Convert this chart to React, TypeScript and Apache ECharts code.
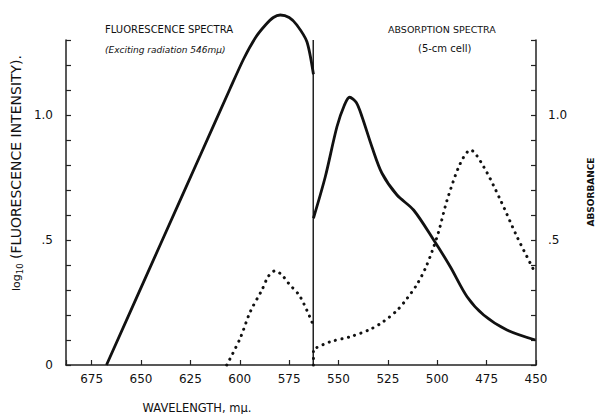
import React, { useEffect, useRef } from "react";
import * as echarts from "echarts";

// Wavelength axis (mμ), reversed
const xTicks = [675, 650, 625, 600, 575, 550, 525, 500, 475, 450];
const yLeftLabels: Record<string, string> = { "0": "0", "0.5": ".5", "1": "1.0" };
const yRightLabels: Record<string, string> = { "0.5": ".5", "1": "1.0" };

// Fluorescence spectra (log10 intensity)
const fluorSolidWl = [667.5, 640, 620, 605, 598, 592, 587, 583, 579.5, 575, 571.1, 566, 562.7];
const fluorSolidVal = [0, 0.486, 0.839, 1.104, 1.225, 1.31, 1.36, 1.39, 1.4, 1.39, 1.36, 1.293, 1.163];

const fluorDotWl = [606.6, 599.8, 594.7, 588.8, 585.5, 582.1, 578.7, 575.3, 569.4, 563.2];
const fluorDotVal = [0, 0.107, 0.213, 0.3, 0.355, 0.377, 0.36, 0.327, 0.273, 0.167];

// Absorption spectra (absorbance)
const absSolidWl = [562.7, 556.7, 550.8, 547, 544.4, 541, 538.1, 533.1, 528, 520.4, 512, 501.8, 493.4, 484.9, 476.5, 464.7, 450.3];
const absSolidVal = [0.587, 0.753, 0.953, 1.04, 1.071, 1.05, 0.993, 0.873, 0.767, 0.68, 0.62, 0.5, 0.393, 0.273, 0.2, 0.14, 0.1];

const absDotWl = [562.7, 562.7, 561.8, 554.2, 544.1, 533.9, 527.2, 520.4, 515.3, 510.3, 506, 502.6, 499.3, 495, 488.3, 483.2, 476.5, 468, 459.6, 450.3];
const absDotVal = [0, 0.063, 0.067, 0.093, 0.113, 0.143, 0.174, 0.218, 0.266, 0.322, 0.387, 0.455, 0.533, 0.66, 0.807, 0.86, 0.793, 0.66, 0.513, 0.367];

// Divider between the two panels
const dividerWl = [562.8, 562.8];
const dividerVal = [0, 1.3];

const zip = (xs: number[], ys: number[]) => xs.map((x, i) => [x, ys[i]]);

const FONT = "DejaVu Sans";
const INK = "#111";

function fmtKey(v: number) {
  const r = Math.round(v * 10) / 10;
  return String(r);
}

export default function App() {
  const ref = useRef<HTMLDivElement>(null);
  useEffect(() => {
    if (!ref.current) return;
    const chart = echarts.init(ref.current, undefined, { renderer: "svg" });
    const axisLine = { show: true, lineStyle: { color: "#222", width: 1.5 } };
    const axisTick = { show: true, inside: true, length: 5, lineStyle: { color: "#222", width: 1.2 } };
    const solid = { color: INK, width: 2.8 };
    const dotted = { color: INK, width: 3, type: [0.1, 6.5] as any, cap: "round" as any };
    const option: any = {
      animation: false,
      backgroundColor: "#ffffff",
      grid: { left: 66, right: 60, top: 40, bottom: 49 },
      xAxis: {
        type: "value",
        min: 450,
        max: 688,
        inverse: true,
        interval: 25,
        axisLine,
        axisTick,
        splitLine: { show: false },
        axisLabel: {
          margin: 8,
          fontSize: 12,
          fontFamily: FONT,
          color: INK,
          formatter: (v: number) => (xTicks.indexOf(Math.round(v)) >= 0 && Math.abs(v - Math.round(v)) < 1e-6 ? String(Math.round(v)) : ""),
        },
      },
      yAxis: [
        {
          type: "value",
          min: 0,
          max: 1.3,
          interval: 0.1,
          axisLine,
          axisTick,
          splitLine: { show: false },
          axisLabel: {
            margin: 13,
            fontSize: 12,
            fontFamily: FONT,
            color: INK,
            formatter: (v: number) => yLeftLabels[fmtKey(v)] ?? "",
          },
        },
        {
          type: "value",
          position: "right",
          min: 0,
          max: 1.3,
          interval: 0.1,
          axisLine,
          axisTick,
          splitLine: { show: false },
          axisLabel: {
            margin: 12,
            fontSize: 12,
            fontFamily: FONT,
            color: INK,
            formatter: (v: number) => yRightLabels[fmtKey(v)] ?? "",
          },
        },
      ],
      graphic: [
        {
          type: "text",
          x: 105,
          y: 29,
          style: { text: "FLUORESCENCE SPECTRA", fontSize: 10, fontFamily: FONT, fill: INK, align: "left", textAlign: "left", verticalAlign: "middle", textVerticalAlign: "middle" },
        },
        {
          type: "text",
          x: 105,
          y: 50,
          style: { text: "(Exciting radiation 546mμ)", fontSize: 9, fontStyle: "italic", fontFamily: FONT, fill: INK, align: "left", textAlign: "left", verticalAlign: "middle", textVerticalAlign: "middle" },
        },
        {
          type: "text",
          x: 388,
          y: 29,
          style: { text: "ABSORPTION SPECTRA", fontSize: 9.5, fontFamily: FONT, fill: INK, align: "left", textAlign: "left", verticalAlign: "middle", textVerticalAlign: "middle" },
        },
        {
          type: "text",
          x: 418,
          y: 48,
          style: { text: "(5-cm cell)", fontSize: 10, fontFamily: FONT, fill: INK, align: "left", textAlign: "left", verticalAlign: "middle", textVerticalAlign: "middle" },
        },
        {
          type: "text",
          x: 197,
          y: 408,
          style: { text: "WAVELENGTH, mμ.", fontSize: 11.5, fontFamily: FONT, fill: INK, align: "center", textAlign: "center", verticalAlign: "middle", textVerticalAlign: "middle" },
        },
        {
          type: "text",
          x: 591,
          y: 192,
          rotation: Math.PI / 2,
          style: { text: "ABSORBANCE", fontSize: 9, fontWeight: "bold", fontFamily: FONT, fill: INK, align: "center", textAlign: "center", verticalAlign: "middle", textVerticalAlign: "middle" },
        },
        {
          type: "text",
          x: 16,
          y: 173,
          rotation: Math.PI / 2,
          style: {
            text: "{a|log}{b|10}{c| (FLUORESCENCE INTENSITY).}",
            fontFamily: FONT,
            fill: INK,
            align: "center",
            textAlign: "center",
            verticalAlign: "middle",
            textVerticalAlign: "middle",
            rich: {
              a: { fontSize: 11, fontFamily: FONT, fill: INK, color: INK, lineHeight: 17, verticalAlign: "middle" },
              b: { fontSize: 8.5, fontFamily: FONT, fill: INK, color: INK, lineHeight: 17, verticalAlign: "bottom" },
              c: { fontSize: 14, fontFamily: FONT, fill: INK, color: INK, lineHeight: 17, verticalAlign: "middle" },
            },
          },
        },
      ],
      series: [
        { type: "line", name: "divider", data: zip(dividerWl, dividerVal), showSymbol: false, clip: false, lineStyle: { color: "#222", width: 1.5 } },
        { type: "line", name: "Fluorescence (solid)", data: zip(fluorSolidWl, fluorSolidVal), showSymbol: false, clip: false, smooth: 0.25, lineStyle: solid },
        { type: "line", name: "Fluorescence (dotted)", data: zip(fluorDotWl, fluorDotVal), showSymbol: false, clip: false, smooth: 0.3, lineStyle: dotted },
        { type: "line", name: "Absorption (solid)", data: zip(absSolidWl, absSolidVal), showSymbol: false, clip: false, smooth: 0.3, lineStyle: solid },
        { type: "line", name: "Absorption (dotted)", data: zip(absDotWl, absDotVal), showSymbol: false, clip: false, smooth: 0.3, lineStyle: dotted },
      ],
    };
    chart.setOption(option);
    return () => chart.dispose();
  }, []);
  return <div ref={ref} style={{ position: "fixed", left: 0, top: 0, width: 596, height: 414, background: "#fff" }} />;
}
